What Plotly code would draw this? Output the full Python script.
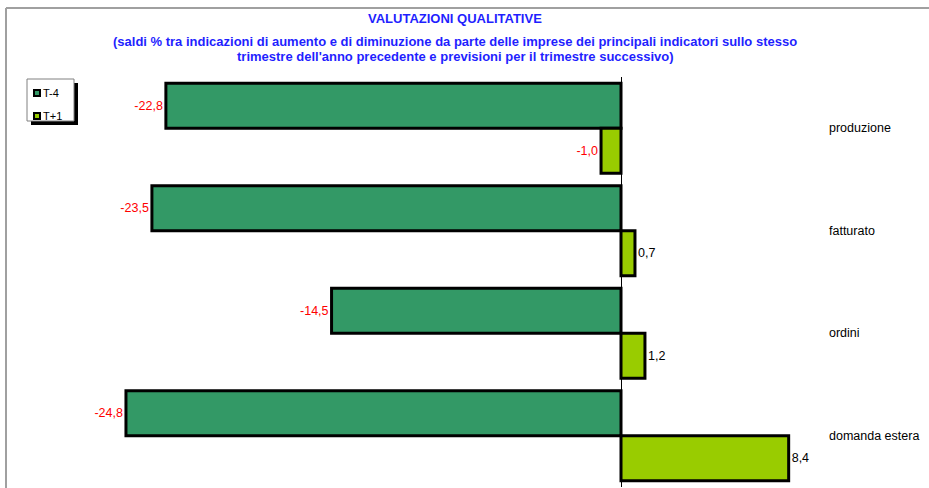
import plotly.graph_objects as go

# categories and values
categorie = ["produzione", "fatturato", "ordini", "domanda estera"]
t_meno4 = [-22.8, -23.5, -14.5, -24.8]
t_piu1 = [-1.0, 0.7, 1.2, 8.4]
serie_nomi = ["T-4", "T+1"]
colori = ["#339966", "#99CC00"]

titolo_righe = [
    "VALUTAZIONI QUALITATIVE",
    "(saldi % tra indicazioni di aumento e di diminuzione da parte delle imprese dei principali indicatori sullo stesso",
    "trimestre dell'anno precedente e previsioni per il trimestre successivo)",
]


def etichetta(v):
    return f"{v:.1f}".replace(".", ",")


def colore_testo(v):
    return "#FF0000" if v < 0 else "#000000"


fig = go.Figure()
for nome, valori, col in zip(serie_nomi, [t_meno4, t_piu1], colori):
    fig.add_trace(go.Bar(
        y=categorie, x=valori, orientation="h", name=nome,
        marker=dict(color=col, line=dict(color="black", width=3)),
        text=[etichetta(v) for v in valori],
        textposition="outside",
        textfont=dict(family="Liberation Sans, Arial", size=12.5,
                      color=[colore_testo(v) for v in valori]),
        cliponaxis=False,
        showlegend=False,
    ))

# category labels on the right side
for c in categorie:
    fig.add_annotation(x=10.3, y=c, xref="x", yref="y", text=c,
                       showarrow=False, xanchor="left", yanchor="middle",
                       font=dict(family="Liberation Sans, Arial", size=12.5, color="black"))

fig.update_layout(
    width=929, height=488,
    margin=dict(l=0, r=0, t=77, b=1),
    plot_bgcolor="white", paper_bgcolor="white",
    barmode="group", bargap=0.12, bargroupgap=0,
    showlegend=False,
    xaxis=dict(range=[-31.11, 15.43], showgrid=False, showticklabels=False,
               zeroline=True, zerolinecolor="black", zerolinewidth=1, fixedrange=True),
    yaxis=dict(autorange="reversed", showgrid=False, showticklabels=False,
               zeroline=False),
)


def py(pix):
    return 1 - (pix - 77) / 410


def px_(pix):
    return pix / 929


# title, one annotation per line
for riga, yc in zip(titolo_righe, [18, 42, 57]):
    fig.add_annotation(
        x=px_(455), y=py(yc), xref="paper", yref="paper",
        text="<b>" + riga + "</b>", showarrow=False, xanchor="center", yanchor="middle",
        font=dict(family="Liberation Sans, Arial", size=13, color="#1F1FFF"),
    )

# gray frame of the chart area
fig.add_shape(type="line", xref="paper", yref="paper", x0=px_(6), x1=1.01,
              y0=py(8), y1=py(8), line=dict(color="#A0A0A0", width=2))
fig.add_shape(type="line", xref="paper", yref="paper", x0=px_(6), x1=px_(6),
              y0=-0.01, y1=py(8), line=dict(color="#A0A0A0", width=2))

# manual legend box with shadow
fig.add_shape(type="rect", xref="paper", yref="paper", x0=px_(31), x1=px_(78),
              y0=py(125), y1=py(83), fillcolor="black", line=dict(width=0))
fig.add_shape(type="rect", xref="paper", yref="paper", x0=px_(27), x1=px_(74),
              y0=py(121), y1=py(79), fillcolor="white", line=dict(color="#808080", width=1))
for i, (nome, col) in enumerate(zip(serie_nomi, colori)):
    yc = 93 + i * 23
    fig.add_shape(type="rect", xref="paper", yref="paper", x0=px_(34), x1=px_(40),
                  y0=py(yc + 3), y1=py(yc - 3), fillcolor=col,
                  line=dict(color="black", width=2))
    fig.add_annotation(x=px_(40.5), y=py(yc), xref="paper", yref="paper", text=nome,
                       showarrow=False, xanchor="left", yanchor="middle",
                       font=dict(family="Liberation Sans, Arial", size=11, color="black"))

fig.write_html("out.html", config={"displayModeBar": False},
               post_script="document.body.style.margin='0';document.body.style.padding='0';")
